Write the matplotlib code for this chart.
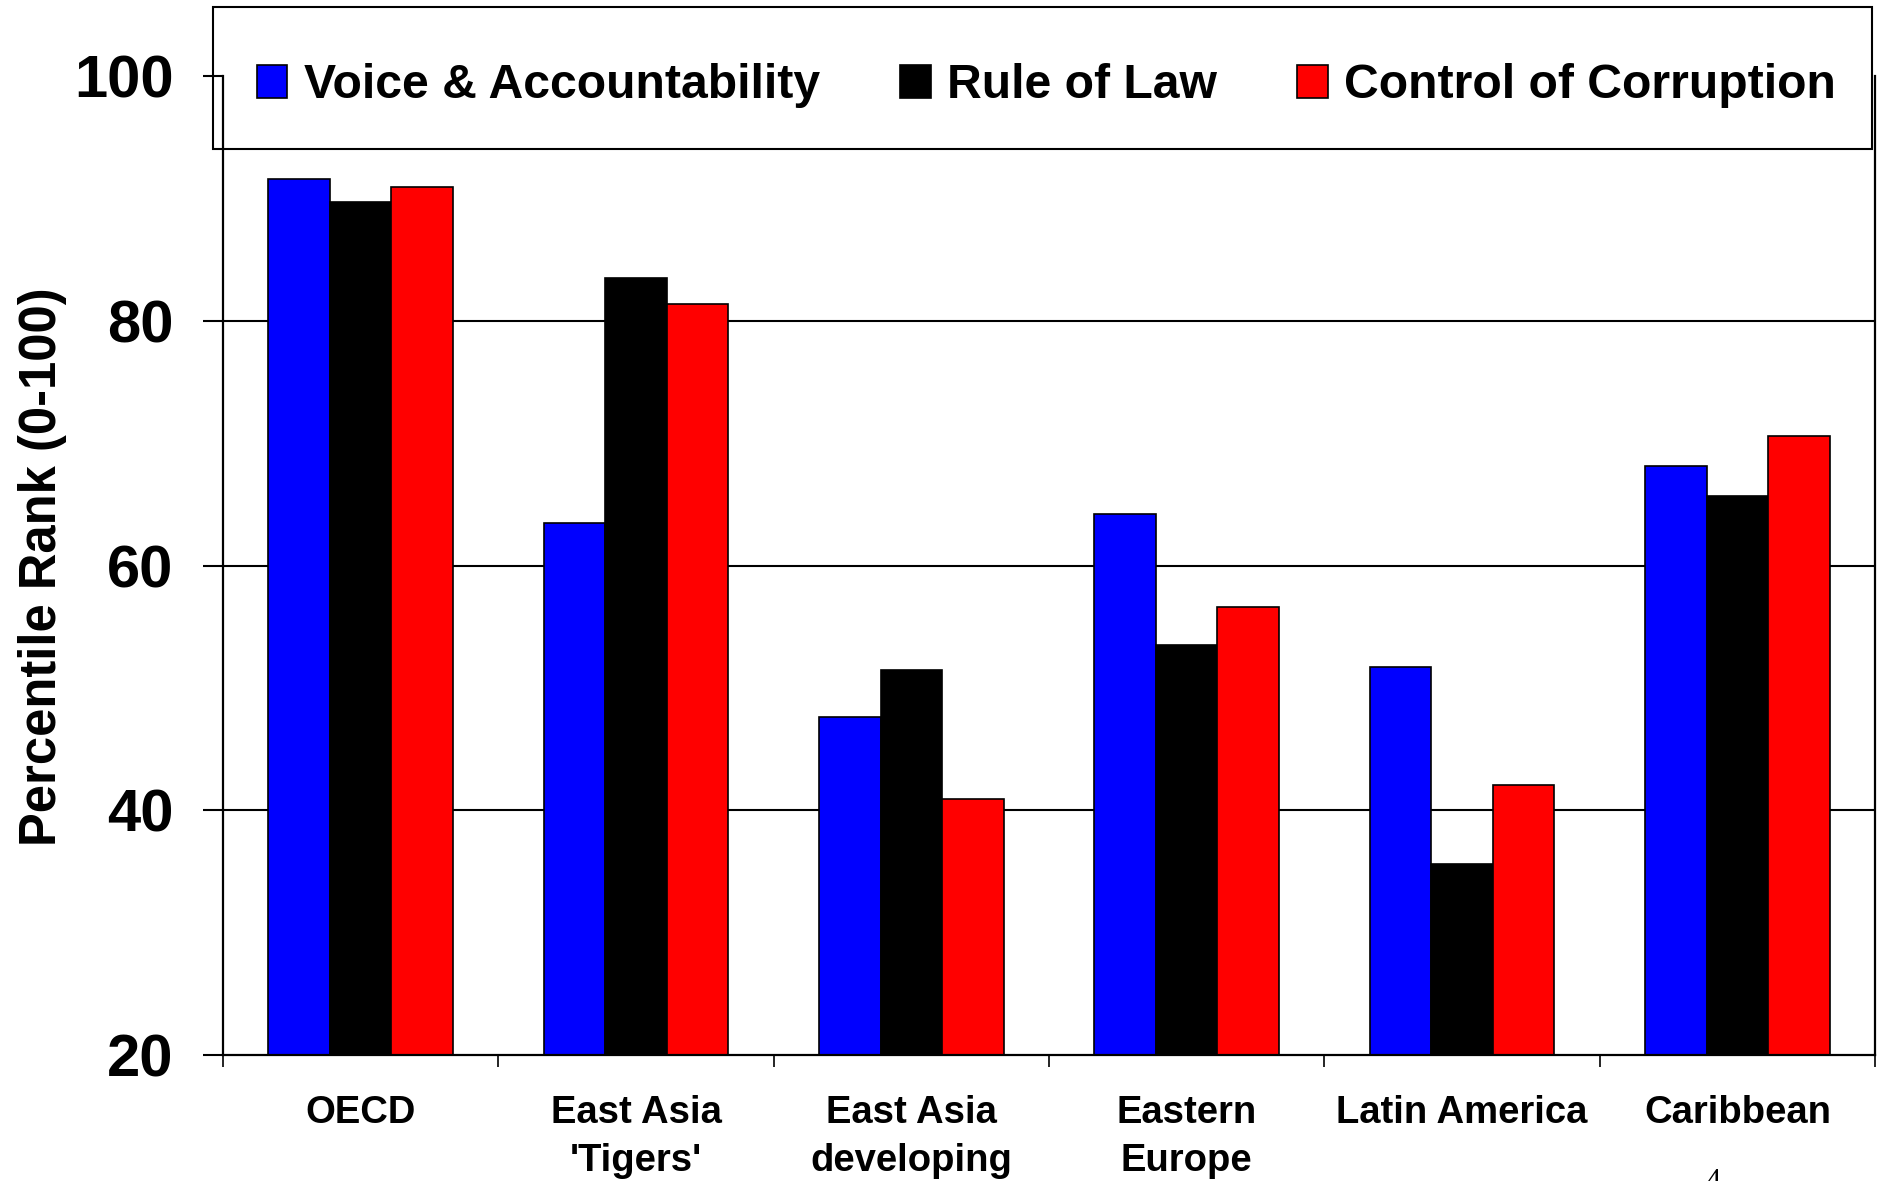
import numpy as np
import matplotlib
matplotlib.use("Agg")
import matplotlib.pyplot as plt
from matplotlib.patches import Rectangle

plt.rcParams['font.family'] = ['Liberation Sans', 'DejaVu Sans']
plt.rcParams['font.weight'] = 'bold'

# data
regions = ["OECD", "East Asia\n'Tigers'", "East Asia\ndeveloping", "Eastern\nEurope",
           "Latin America", "Caribbean"]
voice = [91.6, 63.5, 47.6, 64.2, 51.7, 68.1]
rule_of_law = [89.7, 83.5, 51.5, 53.5, 35.6, 65.7]
corruption = [90.9, 81.4, 40.9, 56.6, 42.1, 70.6]
series_names = ["Voice & Accountability", "Rule of Law", "Control of Corruption"]
series_colors = ["#0000FF", "#000000", "#FF0000"]
yticks = [20, 40, 60, 80, 100]
grid_vals = [40, 60, 80]

W, H = 1883, 1181
fig = plt.figure(figsize=(W / 100, H / 100), dpi=100)
ax = fig.add_axes([0.1184, 0.1067, 0.8774, 0.8289])

x = np.arange(len(regions))
w = 0.2233
for gv in grid_vals:
    ax.axhline(gv, color='black', lw=1.5, zorder=1)
for i, (vals, name, col) in enumerate(zip([voice, rule_of_law, corruption], series_names, series_colors)):
    ax.bar(x + (i - 1) * w, np.array(vals) - 20, w, bottom=20, color=col, edgecolor='black',
           linewidth=1.2, label=name, zorder=2)

ax.set_xlim(-0.5, len(regions) - 0.5)
ax.set_ylim(20, 100)
ax.set_yticks(yticks)
ax.set_yticklabels([str(v) for v in yticks], fontsize=43, fontweight='bold')
ax.tick_params(axis='y', direction='out', length=14.5, width=1.5, pad=21)

ax.set_xticks(x)
ax.set_xticklabels(regions, fontsize=27.5, fontweight='bold', linespacing=1.42)
ax.set_xticks(np.arange(-0.5, len(regions)), minor=True)
ax.tick_params(axis='x', which='major', length=0, pad=29)
ax.tick_params(axis='x', which='minor', direction='out', length=8.6, width=1.2)

ax.spines['top'].set_visible(False)
for s in ['left', 'bottom', 'right']:
    ax.spines[s].set_linewidth(1.6)
    ax.spines[s].set_zorder(3)

fig.text(43 / W, 0.52, "Percentile Rank (0-100)", rotation=90, ha='center', va='center',
         fontsize=36.5, fontweight='bold')

# legend box drawn separately, legend entries placed inside it
fig.patches.append(Rectangle((213 / W, 1 - 149 / H), (1872 - 213) / W, 142 / H,
                             transform=fig.transFigure, facecolor='none',
                             edgecolor='black', linewidth=1.5))
leg = fig.legend(loc='center left', bbox_to_anchor=(257 / W, 1 - 86 / H), ncol=3,
                 fontsize=34.7, frameon=False, handlelength=0.63,
                 handleheight=0.65, handletextpad=0.34, columnspacing=1.67,
                 borderpad=0, borderaxespad=0)
for t in leg.get_texts():
    t.set_fontweight('bold')

fig.text(1713 / W, 1 - 1168 / H, "4", ha='center', va='top', fontsize=22,
         family='Liberation Serif', fontweight='normal')

fig.savefig("out.png", dpi=100, facecolor='white')
